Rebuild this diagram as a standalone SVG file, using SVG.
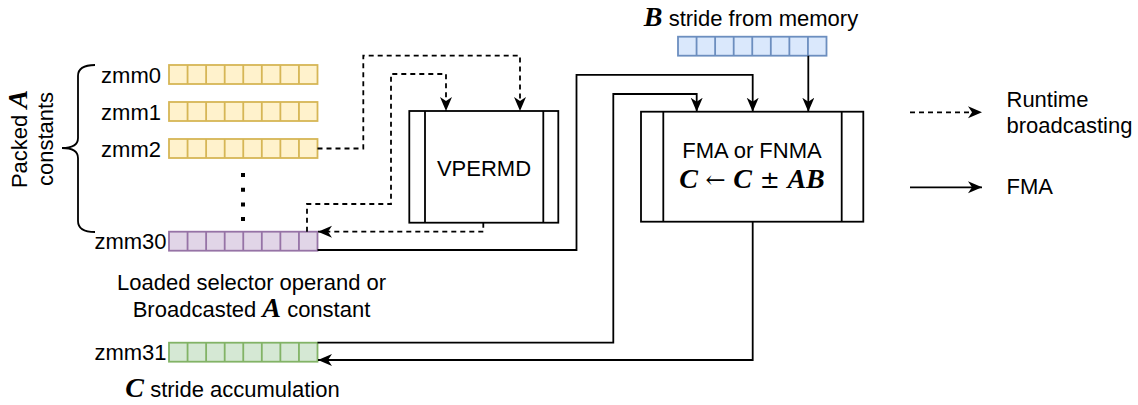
<svg xmlns="http://www.w3.org/2000/svg" xmlns:xlink="http://www.w3.org/1999/xlink" width="1138" height="405" viewBox="0 0 1138 405">
<style>
text{font-family:"Liberation Sans",Arial,sans-serif;font-size:22px;fill:#000}
.m{font-family:"Liberation Serif","DejaVu Serif",serif;font-weight:bold;font-style:italic;font-size:28px}
.op{font-family:"DejaVu Serif",serif;font-size:24px}
.yel{fill:#fff2cc;stroke:#d6b656;stroke-width:1.8}
.pur{fill:#e1d5e7;stroke:#9673a6;stroke-width:1.8}
.grn{fill:#d5e8d4;stroke:#82b366;stroke-width:1.8}
.blu{fill:#dae8fc;stroke:#6c8ebf;stroke-width:1.8}
.box{fill:#fff;stroke:#000;stroke-width:1.8}
.ln{fill:none;stroke:#000;stroke-width:1.8}
.solid{fill:none;stroke:#000;stroke-width:1.8;marker-end:url(#ah)}
.dash{fill:none;stroke:#000;stroke-width:1.8;stroke-dasharray:5 4;marker-end:url(#ah)}
</style>
<defs>
<marker id="ah" markerUnits="userSpaceOnUse" markerWidth="16" markerHeight="13" refX="14" refY="6" orient="auto">
<path d="M0,0 L14,6 L0,12 L4,6 Z" fill="#000"/>
</marker>
<g id="cells"><rect width="148.5" height="19"/><path d="M18.56,0v19M37.12,0v19M55.69,0v19M74.25,0v19M92.81,0v19M111.37,0v19M129.94,0v19"/></g>
</defs>

<g id="packed-label">
<path class="ln" d="M95,65 Q78,65 78,76 V138 Q78,148 62,148 Q78,148 78,158 V221 Q78,232 95,232"/>
<text transform="translate(30,139) rotate(-90)" text-anchor="middle"><tspan x="0" y="-3">Packed <tspan class="m" font-size="24">A</tspan></tspan><tspan x="0" y="23">constants</tspan></text>
<line x1="243" y1="173" x2="243" y2="222" stroke="#000" stroke-width="4" stroke-dasharray="4 10.7"/>
</g>

<g id="zmm0"><text x="161" y="83" text-anchor="end">zmm0</text><use xlink:href="#cells" x="169" y="65" class="yel"/></g>
<g id="zmm1"><text x="161" y="120" text-anchor="end">zmm1</text><use xlink:href="#cells" x="169" y="102" class="yel"/></g>
<g id="zmm2"><text x="161" y="157" text-anchor="end">zmm2</text><use xlink:href="#cells" x="169" y="139" class="yel"/></g>
<g id="zmm30"><text x="166.5" y="249" text-anchor="end">zmm30</text><use xlink:href="#cells" x="169" y="231.7" class="pur"/>
<text x="251.5" y="289.5" text-anchor="middle">Loaded selector operand or</text>
<text x="251.5" y="317" text-anchor="middle">Broadcasted <tspan class="m" font-size="23">A</tspan> constant</text>
</g>
<g id="zmm31"><text x="166.5" y="360" text-anchor="end">zmm31</text><use xlink:href="#cells" x="169" y="342.7" class="grn"/>
<text x="232.5" y="396.5" text-anchor="middle"><tspan class="m">C</tspan> stride accumulation</text>
</g>
<g id="bmem"><text x="751" y="26" text-anchor="middle"><tspan class="m">B</tspan> stride from memory</text><use xlink:href="#cells" x="678" y="36.7" class="blu"/></g>

<g id="vpermd">
<rect class="box" x="409.3" y="111" width="149" height="111.7"/>
<path class="ln" d="M425,111V222.7M543.3,111V222.7"/>
<text x="484" y="176" text-anchor="middle">VPERMD</text>
</g>

<g id="fma">
<rect class="box" x="641" y="111.7" width="222.3" height="110"/>
<path class="ln" d="M663.3,111.7V221.7M841.7,111.7V221.7"/>
<text x="752" y="158" text-anchor="middle">FMA or FNMA</text>
<text x="752" y="188" text-anchor="middle" font-size="26"><tspan class="m" font-size="26">C</tspan><tspan class="op"> ← </tspan><tspan class="m" font-size="26">C</tspan><tspan class="op"> ± </tspan><tspan class="m" font-size="26">AB</tspan></text>
</g>

<g id="legend">
<line class="dash" x1="910" y1="112.3" x2="982" y2="112.3"/>
<text x="1006.5" y="106.7">Runtime</text>
<text x="1006.5" y="133.4">broadcasting</text>
<line class="solid" x1="910" y1="187.3" x2="982" y2="187.3"/>
<text x="1006.5" y="194">FMA</text>
</g>

<g id="connectors">
<path class="dash" d="M317.5,148.5 H363.3 V55.7 H520 V111"/>
<path class="dash" d="M307,231.7 V204 H391 V74 H446 V111"/>
<path class="dash" d="M483.3,222.7 V231.7 H318"/>
<path class="solid" d="M317.5,250 H576.5 V74.8 H752.7 V111.7"/>
<path class="solid" d="M317.5,342.7 H613.3 V94 H696.7 V111.7"/>
<path class="solid" d="M808.3,55.7 V111.7"/>
<path class="solid" d="M752.7,221.7 V360 H318"/>
</g>
</svg>
